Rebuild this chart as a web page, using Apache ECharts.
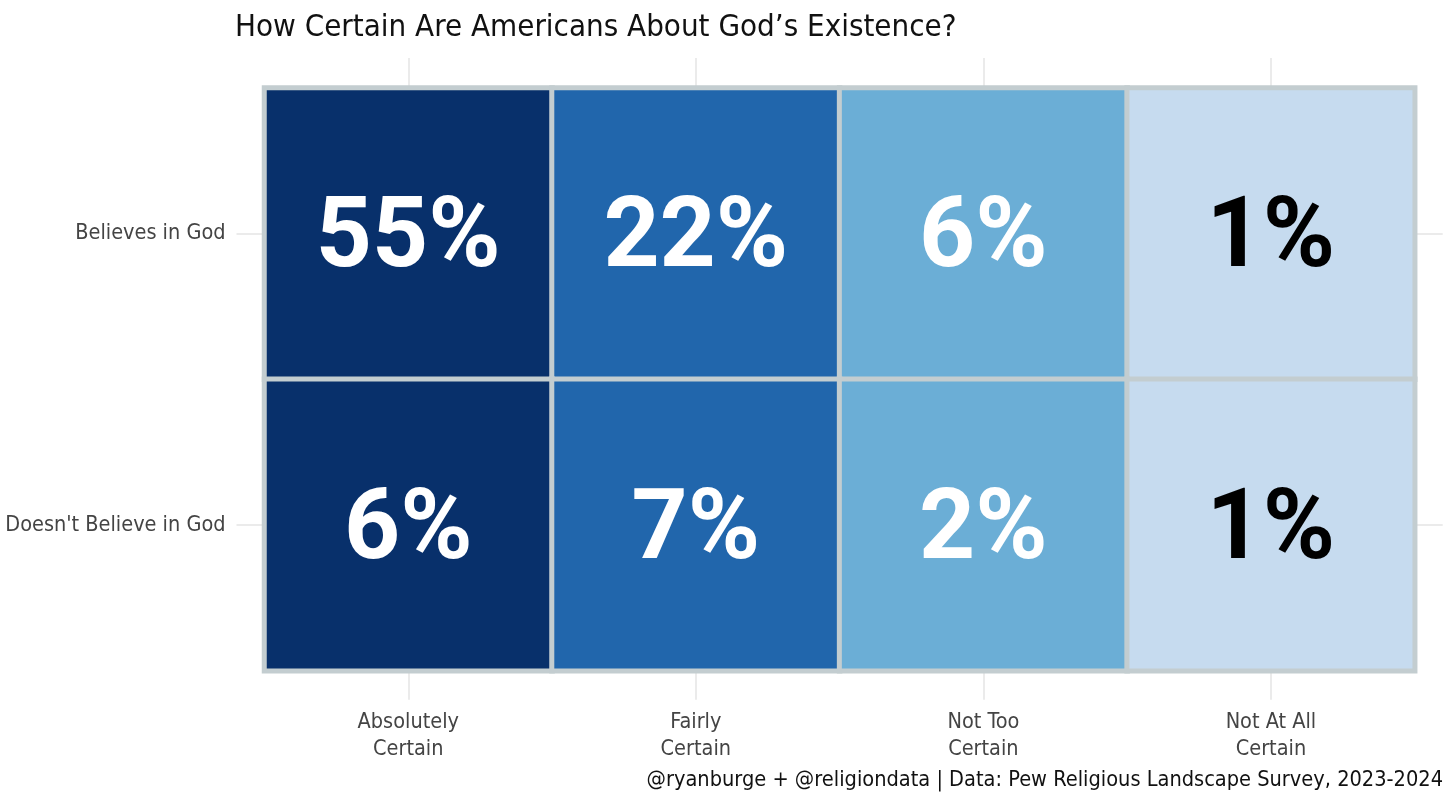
<!DOCTYPE html>
<html>
<head>
<meta charset="utf-8">
<script src="https://cdn.jsdelivr.net/npm/echarts@6/dist/echarts.min.js"></script>
<style>
html,body{margin:0;padding:0;background:#fff;}
#chart{width:1456px;height:809px;}
</style>
</head>
<body>
<div id="chart"></div>
<script>
const xCategories = ['Absolutely\nCertain', 'Fairly\nCertain', 'Not Too\nCertain', 'Not At All\nCertain'];
const yCategories = ['Believes in God', "Doesn't Believe in God"];
const believesValues = [55, 22, 6, 1];
const doesntBelieveValues = [6, 7, 2, 1];
const columnColors = ['#08306B', '#2166AC', '#6BAED6', '#C6DBEF'];
const labelColors = ['#ffffff', '#ffffff', '#ffffff', '#000000'];

const FONT = '"DejaVu Sans Condensed", "Liberation Sans Narrow", sans-serif';
const BIGFONT = 'Roboto, "DejaVu Sans Condensed", sans-serif';
const rows = [believesValues, doesntBelieveValues];
const data = [];
rows.forEach((vals, yi) => {
  vals.forEach((v, xi) => {
    data.push({
      value: [xi, yi, v],
      itemStyle: { color: columnColors[xi] },
      label: { color: labelColors[xi] }
    });
  });
});

const chart = echarts.init(document.getElementById('chart'), null, { renderer: 'canvas' });
const gridTick = { show: true, alignWithLabel: true, lineStyle: { color: '#ebebeb', width: 2 } };
chart.setOption({
  backgroundColor: '#ffffff',
  animation: false,
  title: {
    text: "How Certain Are Americans About God\u2019s Existence?",
    left: 230, top: 7,
    textStyle: { fontFamily: FONT, fontSize: 31, fontWeight: 'normal', color: '#111' }
  },
  graphic: [{
    type: 'text', right: 13, top: 769,
    style: {
      text: '@ryanburge + @religiondata | Data: Pew Religious Landscape Survey, 2023-2024',
      fontFamily: FONT, fontSize: 21.6, fill: '#111'
    }
  }],
  grid: { left: 264.5, right: 41.3, top: 88, bottom: 138.3, containLabel: false },
  xAxis: [{
    type: 'category', data: xCategories, position: 'bottom',
    axisLine: { show: false },
    axisTick: Object.assign({ length: 29 }, gridTick),
    splitLine: { show: false },
    axisLabel: { margin: 38, fontFamily: FONT, fontSize: 21.5, color: '#444', lineHeight: 27 }
  }, {
    type: 'category', data: xCategories, position: 'top',
    axisLine: { show: false },
    axisTick: Object.assign({ length: 30 }, gridTick),
    axisLabel: { show: false }
  }],
  yAxis: [{
    type: 'category', data: yCategories, inverse: true, position: 'left',
    axisLine: { show: false },
    axisTick: Object.assign({ length: 28 }, gridTick),
    splitLine: { show: false },
    axisLabel: { margin: 39, fontFamily: FONT, fontSize: 21.5, color: '#444' }
  }, {
    type: 'category', data: yCategories, inverse: true, position: 'right',
    axisLine: { show: false },
    axisTick: Object.assign({ length: 28 }, gridTick),
    axisLabel: { show: false }
  }],
  series: [{
    type: 'heatmap',
    xAxisIndex: 0, yAxisIndex: 0,
    data: data,
    itemStyle: { borderColor: '#C3CDD0', borderWidth: 5 },
    label: {
      show: true,
      offset: [0, 8],
      formatter: p => p.value[2] + '%',
      fontFamily: BIGFONT, fontSize: 98, fontWeight: 'bold'
    },
    emphasis: { disabled: true }
  }]
});
</script>
</body>
</html>
